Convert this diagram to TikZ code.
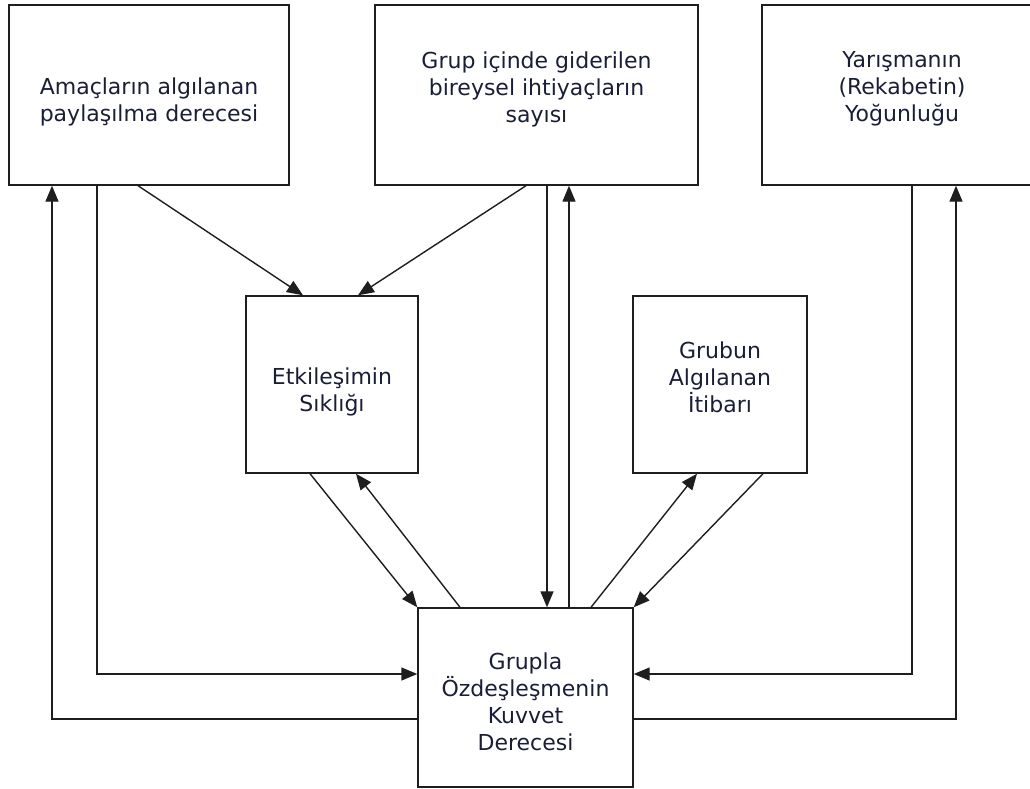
\documentclass[tikz,border=0pt]{standalone}
\usepackage{fontspec}
\setmainfont{DejaVu Sans}
\usetikzlibrary{arrows.meta,positioning}
\definecolor{inkline}{RGB}{30,30,30}
\definecolor{inktext}{RGB}{25,30,55}

\begin{document}
\begin{tikzpicture}[
    x=1pt, y=-1pt,
    every node/.style={font=\fontsize{22}{27}\selectfont, text=inktext, align=center},
    box/.style={draw=inkline, line width=1.4pt, inner sep=0pt},
    link/.style={draw=inkline, line width=1.4pt, -{Triangle[length=16pt,width=13pt]}},
]
\useasboundingbox (0,0) rectangle (1030,789);
% boxes
\node[box, minimum width=280pt, minimum height=180pt] (goals) at (149,95) {};
\node[box, minimum width=323pt, minimum height=180pt] (needs) at (536.5,95) {};
\node[box, minimum width=280pt, minimum height=180pt] (rivalry) at (902,95) {};
\node[box, minimum width=172pt, minimum height=177pt] (contact) at (332,384.5) {};
\node[box, minimum width=174pt, minimum height=177pt] (prestige) at (720,384.5) {};
\node[box, minimum width=215pt, minimum height=179pt] (bond) at (525.5,697.5) {};

% texts
\node[yshift=-6.5pt] (goals-text) at (goals) {Amaçların algılanan\\paylaşılma derecesi};
\node[yshift=6pt] (needs-text) at (needs) {Grup içinde giderilen\\bireysel ihtiyaçların\\sayısı};
\node[yshift=6pt] (rivalry-text) at (rivalry) {Yarışmanın\\(Rekabetin)\\Yoğunluğu};
\node[yshift=-7pt] (contact-text) at (contact) {Etkileşimin\\Sıklığı};
\node[yshift=7.5pt] (prestige-text) at (prestige) {Grubun\\Algılanan\\İtibarı};
\node[yshift=-4pt] (bond-text) at (bond) {Grupla\\Özdeşleşmenin\\Kuvvet\\Derecesi};

% top row into the middle boxes
\draw[link] ([xshift=-11pt]goals.south) -- ([xshift=-29pt]contact.north);
\draw[link] ([xshift=-10.5pt]needs.south) -- ([xshift=26pt]contact.north);
\draw[link] ([xshift=10.5pt]needs.south) -- ([xshift=21.5pt]bond.north);
\draw[link] ([xshift=43.5pt]bond.north) -- ([xshift=32.5pt]needs.south);

% side loops
\draw[link] ([xshift=-52pt]goals.south) |- ([yshift=23.5pt]bond.west);
\draw[link] ([yshift=-21.5pt]bond.west) -| ([xshift=-97pt]goals.south);
\draw[link] ([xshift=10pt]rivalry.south) |- ([yshift=23.5pt]bond.east);
\draw[link] ([yshift=-21.5pt]bond.east) -| ([xshift=54pt]rivalry.south);

% middle boxes and the bottom box
\draw[link] ([xshift=-22pt]contact.south) -- (bond.north west);
\draw[link] ([xshift=-65.5pt]bond.north) -- ([xshift=24pt]contact.south);
\draw[link] ([xshift=65.5pt]bond.north) -- ([xshift=-23pt]prestige.south);
\draw[link] ([xshift=43pt]prestige.south) -- (bond.north east);
\end{tikzpicture}
\end{document}
